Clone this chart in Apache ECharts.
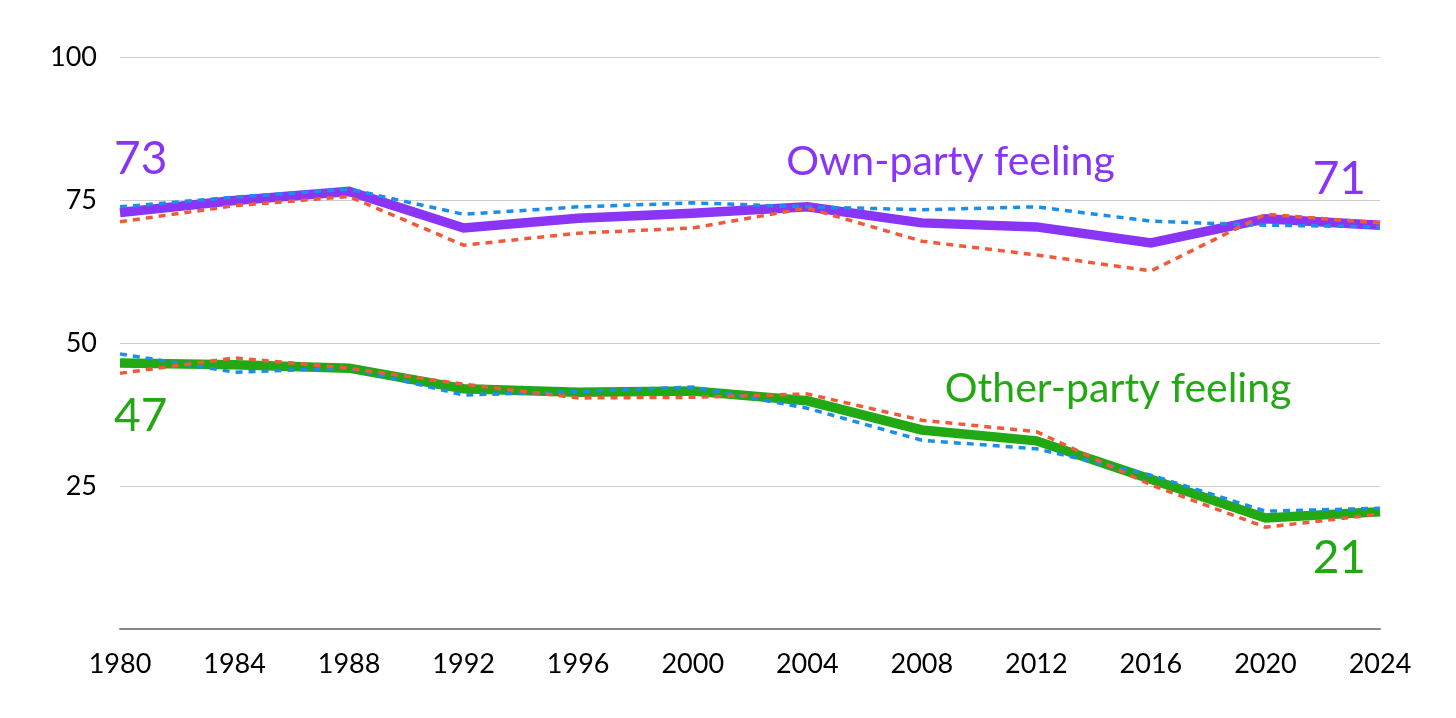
<!DOCTYPE html>
<html>
<head>
<meta charset="utf-8">
<script src="https://cdn.jsdelivr.net/npm/echarts@6/dist/echarts.min.js"></script>
<style>
html,body{margin:0;padding:0;background:#fff;}
#chart{width:1456px;height:718px;}
</style>
</head>
<body>
<div id="chart"></div>
<script>
const years = [1980,1984,1988,1992,1996,2000,2004,2008,2012,2016,2020,2024];
const ownAll = [72.8,74.9,76.5,70.1,71.8,72.7,73.8,71.0,70.3,67.5,71.7,70.6];
const ownBlue = [73.8,75.5,76.9,72.5,73.8,74.5,73.8,73.3,73.8,71.3,70.6,70.3];
const ownRed = [71.2,74.0,75.6,67.1,69.2,70.1,73.6,67.8,65.4,62.6,72.5,71.0];
const otherAll = [46.5,46.2,45.6,42.0,41.4,41.6,39.9,34.8,32.9,26.2,19.4,20.5];
const otherBlue = [48.1,44.9,45.6,40.9,41.5,42.3,38.6,33.0,31.5,26.9,20.6,21.1];
const otherRed = [44.7,47.4,45.6,42.8,40.4,40.5,41.1,36.5,34.5,25.2,17.8,20.1];
const yTicks = [0,25,50,75,100];
const annotations = [
  {text:'73', year:1980, value:73, color:'#8a35f5', align:'left', dx:-6, dy:-52, size:46},
  {text:'Own-party feeling', year:2004, value:74, color:'#8a35f5', align:'left', dx:-21, dy:-44, size:41},
  {text:'71', year:2024, value:71, color:'#8a35f5', align:'right', dx:-14, dy:-44, size:46},
  {text:'47', year:1980, value:47, color:'#22a812', align:'left', dx:-6, dy:56, size:46},
  {text:'Other-party feeling', year:2008, value:35, color:'#22a812', align:'left', dx:23, dy:-40, size:41},
  {text:'21', year:2024, value:21, color:'#22a812', align:'right', dx:-14, dy:49, size:46}
];

const PURPLE = '#8a35f5', GREEN = '#22a812', BLUE = '#1a8fe8', RED = '#f05a3a';
const FONT = 'Lato, "Noto Sans", sans-serif';
const pairs = arr => years.map((y,i)=>[y,arr[i]]);

function dashed(name, arr, color){
  return {name, type:'line', data:pairs(arr), symbol:'none', z:3,
    lineStyle:{color, width:3.5, type:[7,6]}};
}
function solid(name, arr, color){
  return {name, type:'line', data:pairs(arr), symbol:'none', z:2,
    lineStyle:{color, width:9.5, join:'miter'}};
}

const chart = echarts.init(document.getElementById('chart'));
chart.setOption({
  animation:false,
  backgroundColor:'#fff',
  grid:{left:120, right:76, top:57, bottom:89},
  xAxis:{type:'value', min:1980, max:2024, interval:4,
    axisLine:{show:true, lineStyle:{color:'#888', width:2}},
    axisTick:{show:false}, splitLine:{show:false},
    axisLabel:{color:'#000', fontSize:27, fontFamily:FONT, margin:22, formatter:v=>String(v)}},
  yAxis:{type:'value', min:yTicks[0], max:yTicks[yTicks.length-1], interval:25,
    axisLine:{show:false}, axisTick:{show:false},
    splitLine:{lineStyle:{color:'#cccccc', width:1}},
    axisLabel:{color:'#000', fontSize:27, fontFamily:FONT, margin:23, formatter:v=>v===0?'':String(v)}},
  series:[
    solid('Own-party', ownAll, PURPLE),
    solid('Other-party', otherAll, GREEN),
    dashed('Own-party (D)', ownBlue, BLUE),
    dashed('Own-party (R)', ownRed, RED),
    dashed('Other-party (D)', otherBlue, BLUE),
    dashed('Other-party (R)', otherRed, RED)
  ]
});
const g = annotations.map(a=>{
  const p = chart.convertToPixel({gridIndex:0}, [a.year, a.value]);
  return {type:'text', x:p[0]+a.dx, y:p[1]+a.dy, z:10,
    style:{text:a.text, fill:a.color, font:a.size + 'px ' + FONT, align:a.align, verticalAlign:'middle'}};
});
chart.setOption({graphic:g});
</script>
</body>
</html>
